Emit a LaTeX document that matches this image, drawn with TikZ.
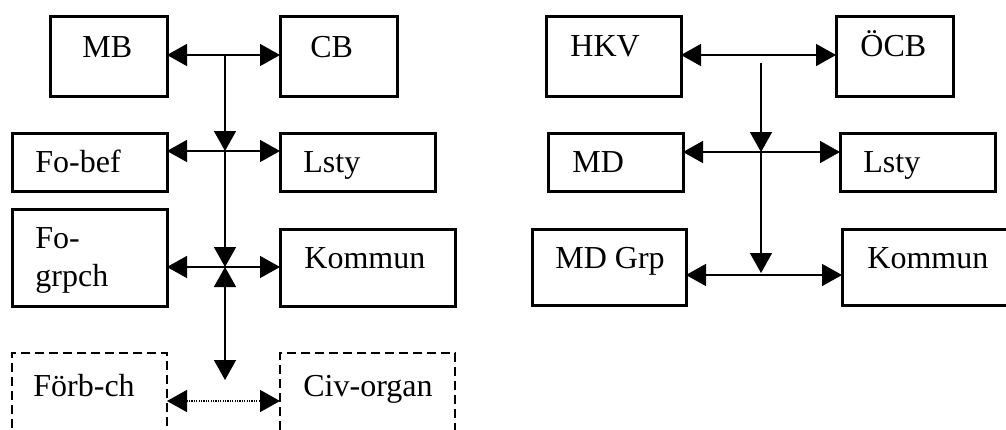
\documentclass[tikz,border=0pt]{standalone}
\usepackage{fontspec}
\setmainfont{Liberation Serif}
\usetikzlibrary{arrows.meta}
\begin{document}
\begin{tikzpicture}[x=0.5pt, y=0.5pt,
      box/.style = {shape=rectangle, draw, line width=1.5pt, inner sep=0pt, outer sep=0pt},
      dbox/.style = {shape=rectangle, draw, line width=0.65pt, dash pattern=on 4.5pt off 2.5pt, inner sep=0pt, outer sep=0pt},
      txt/.style = {inner sep=0pt, anchor=base west, align=left, font=\fontsize{16}{19}\selectfont},
      link/.style = {line width=0.75pt, >={Triangle[length=10pt,width=11pt]}},
      dotlink/.style = {link, dash pattern=on 0.6pt off 0.6pt}]
      \useasboundingbox (0,0) rectangle (1006,-429);
      \clip (0,0) rectangle (1006,-429);
      % left chart
      \node[box, minimum width=58.5pt, minimum height=40pt] (mb) at (108.5,-56) {};
      \node[box, minimum width=58.5pt, minimum height=40pt] (cb) at (338.5,-56) {};
      \node[box, minimum width=77.5pt, minimum height=29pt] (fobef) at (89.5,-162) {};
      \node[box, minimum width=77.5pt, minimum height=29pt] (lstyA) at (357.5,-162) {};
      \node[box, minimum width=77.5pt, minimum height=48.5pt] (fogrp) at (89.5,-257.5) {};
      \node[box, minimum width=87.5pt, minimum height=38.5pt] (kommunA) at (367.5,-267.5) {};
      \node[dbox, minimum width=77.5pt, minimum height=50pt] (forb) at (89.5,-403) {};
      \node[dbox, minimum width=87.5pt, minimum height=50pt] (civ) at (367.5,-403) {};
      \node[txt] at ([shift={(32,-41)}]mb.north west) {MB};
      \node[txt] at ([shift={(30,-41)}]cb.north west) {CB};
      \node[txt] at ([shift={(23,-39)}]fobef.north west) {Fo-bef};
      \node[txt] at ([shift={(23,-39)}]lstyA.north west) {Lsty};
      \node[txt] at ([shift={(23,-77)}]fogrp.north west) {Fo-\\grpch};
      \node[txt] at ([shift={(24,-39)}]kommunA.north west) {Kommun};
      \node[txt] at ([shift={(21,-43)}]forb.north west) {Förb-ch};
      \node[txt] at ([shift={(23,-43)}]civ.north west) {Civ-organ};
      \coordinate (l1) at (225,-55);
      \coordinate (l2) at (225,-151);
      \coordinate (l3) at (225,-267);
      \coordinate (l4) at (225,-380);
      \coordinate (l5) at (225,-401);
      \draw[link, <->] (mb.east |- l1) -- (cb.west |- l1);
      \draw[link, ->] (l1) -- (l2);
      \draw[link, <->] (fobef.east |- l2) -- (lstyA.west |- l2);
      \draw[link, ->] (l2) -- (l3);
      \draw[link, <->] (fogrp.east |- l3) -- (kommunA.west |- l3);
      \draw[link, <->] (l3) -- (l4);
      \draw[dotlink, <->] (forb.east |- l5) -- (civ.west |- l5);
      % right chart
      \node[box, minimum width=67.5pt, minimum height=40pt] (hkv) at (613.5,-56) {};
      \node[box, minimum width=58.5pt, minimum height=40pt] (ocb) at (894.5,-56) {};
      \node[box, minimum width=67.5pt, minimum height=29pt] (md) at (615.5,-162) {};
      \node[box, minimum width=77.5pt, minimum height=29pt] (lstyB) at (917.5,-162) {};
      \node[box, minimum width=77pt, minimum height=38pt] (mdgrp) at (609,-267) {};
      \node[box, minimum width=87.5pt, minimum height=38pt] (kommunB) at (929.5,-267) {};
      \node[txt] at ([shift={(24,-40)}]hkv.north west) {HKV};
      \node[txt] at ([shift={(24,-40)}]ocb.north west) {ÖCB};
      \node[txt] at ([shift={(24,-39)}]md.north west) {MD};
      \node[txt] at ([shift={(23,-39)}]lstyB.north west) {Lsty};
      \node[txt] at ([shift={(23,-39)}]mdgrp.north west) {MD Grp};
      \node[txt] at ([shift={(25,-39)}]kommunB.north west) {Kommun};
      \coordinate (r1) at (761,-55);
      \coordinate (r0) at (761,-63);
      \coordinate (r2) at (761,-152);
      \coordinate (r3) at (761,-273);
      \coordinate (r4) at (761,-275);
      \draw[link, <->] (hkv.east |- r1) -- (ocb.west |- r1);
      \draw[link, ->] (r0) -- (r2);
      \draw[link, <->] (md.east |- r2) -- (lstyB.west |- r2);
      \draw[link, ->] (r2) -- (r3);
      \draw[link, <->] (mdgrp.east |- r4) -- (kommunB.west |- r4);
\end{tikzpicture}
\end{document}
